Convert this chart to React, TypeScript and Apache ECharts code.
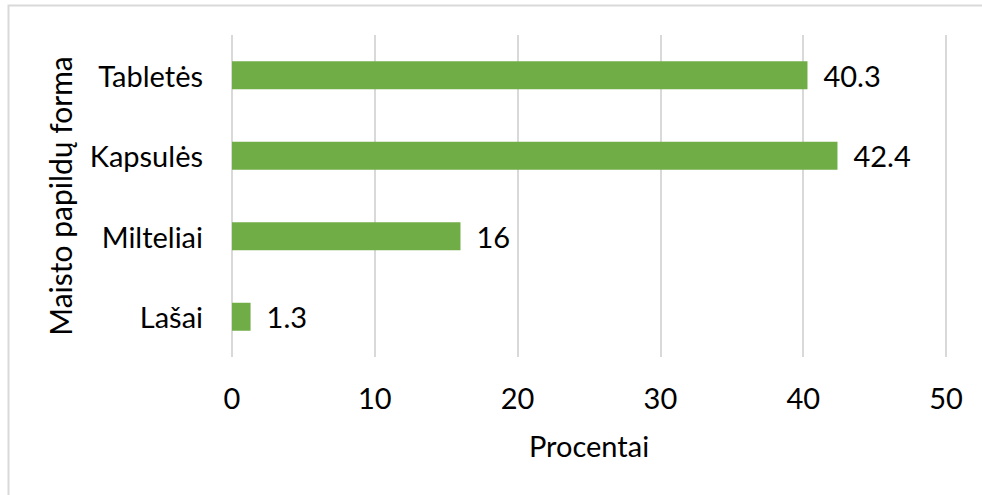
import React, { useEffect, useRef } from "react";
import * as echarts from "echarts";

const categories = ["Lašai", "Milteliai", "Kapsulės", "Tabletės"];
const values = [1.3, 16, 42.4, 40.3];
const xTicks = { min: 0, max: 50, interval: 10 };
const xTitle = "Procentai";
const yTitle = "Maisto papildų forma";

const FONT = "Lato";

export default function App() {
  const ref = useRef<HTMLDivElement>(null);
  useEffect(() => {
    if (!ref.current) return;
    const chart = echarts.init(ref.current, undefined, { renderer: "svg" });
    chart.setOption({
      animation: false,
      backgroundColor: "#ffffff",
      textStyle: { fontFamily: FONT },
      grid: { left: 232, right: 36, top: 35, bottom: 138, containLabel: false },
      graphic: [
        {
          type: "rect",
          shape: { x: 8.5, y: 5.5, width: 1200, height: 1200 },
          style: { fill: "none", stroke: "#d9d9d9", lineWidth: 2 },
          silent: true,
        },
      ],
      xAxis: {
        type: "value",
        min: xTicks.min,
        max: xTicks.max,
        interval: xTicks.interval,
        name: xTitle,
        nameLocation: "middle",
        nameGap: 74,
        nameTextStyle: { fontFamily: FONT, fontSize: 29, color: "#000" },
        axisLine: { show: false },
        axisTick: { show: false },
        axisLabel: { fontFamily: FONT, fontSize: 29, color: "#000", margin: 26 },
        splitLine: { show: true, lineStyle: { color: "#d9d9d9", width: 2 } },
      },
      yAxis: {
        type: "category",
        data: categories,
        name: yTitle,
        nameLocation: "middle",
        nameGap: 157,
        nameRotate: 90,
        nameTextStyle: { fontFamily: FONT, fontSize: 30, color: "#000" },
        axisLine: { show: false },
        axisTick: { show: false },
        axisLabel: { fontFamily: FONT, fontSize: 29, color: "#000", margin: 29 },
        splitLine: { show: false },
      },
      series: [
        {
          type: "bar",
          data: values,
          barWidth: 28,
          itemStyle: { color: "#70ad47" },
          label: {
            show: true,
            position: "right",
            distance: 16,
            fontFamily: FONT,
            fontSize: 29,
            color: "#000",
          },
        },
      ],
    });
    return () => chart.dispose();
  }, []);
  return (
    <div
      ref={ref}
      style={{ position: "absolute", left: 0, top: 0, width: 982, height: 495 }}
    />
  );
}
